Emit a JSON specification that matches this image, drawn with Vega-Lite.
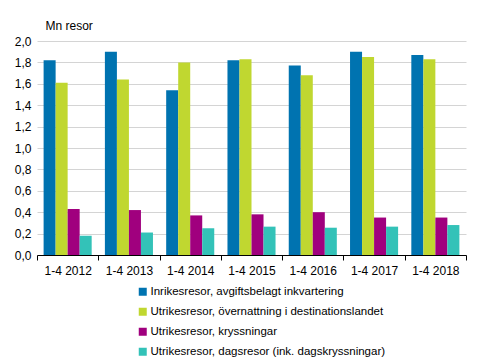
{
  "$schema": "https://vega.github.io/schema/vega-lite/v6.json",
  "width": 429,
  "height": 214,
  "autosize": {"type": "none"},
  "padding": {"left": 37, "top": 41, "right": 26, "bottom": 104},
  "background": "white",
  "config": {
    "font": "Liberation Sans",
    "view": {"stroke": null}
  },
  "data": {
    "values": [
      {"period": "1-4 2012", "serie": "Inrikesresor, avgiftsbelagt inkvartering", "value": 1.82},
      {"period": "1-4 2012", "serie": "Utrikesresor, övernattning i destinationslandet", "value": 1.61},
      {"period": "1-4 2012", "serie": "Utrikesresor, kryssningar", "value": 0.43},
      {"period": "1-4 2012", "serie": "Utrikesresor, dagsresor (ink. dagskryssningar)", "value": 0.18},
      {"period": "1-4 2013", "serie": "Inrikesresor, avgiftsbelagt inkvartering", "value": 1.90},
      {"period": "1-4 2013", "serie": "Utrikesresor, övernattning i destinationslandet", "value": 1.64},
      {"period": "1-4 2013", "serie": "Utrikesresor, kryssningar", "value": 0.42},
      {"period": "1-4 2013", "serie": "Utrikesresor, dagsresor (ink. dagskryssningar)", "value": 0.21},
      {"period": "1-4 2014", "serie": "Inrikesresor, avgiftsbelagt inkvartering", "value": 1.54},
      {"period": "1-4 2014", "serie": "Utrikesresor, övernattning i destinationslandet", "value": 1.80},
      {"period": "1-4 2014", "serie": "Utrikesresor, kryssningar", "value": 0.37},
      {"period": "1-4 2014", "serie": "Utrikesresor, dagsresor (ink. dagskryssningar)", "value": 0.25},
      {"period": "1-4 2015", "serie": "Inrikesresor, avgiftsbelagt inkvartering", "value": 1.82},
      {"period": "1-4 2015", "serie": "Utrikesresor, övernattning i destinationslandet", "value": 1.83},
      {"period": "1-4 2015", "serie": "Utrikesresor, kryssningar", "value": 0.38},
      {"period": "1-4 2015", "serie": "Utrikesresor, dagsresor (ink. dagskryssningar)", "value": 0.265},
      {"period": "1-4 2016", "serie": "Inrikesresor, avgiftsbelagt inkvartering", "value": 1.77},
      {"period": "1-4 2016", "serie": "Utrikesresor, övernattning i destinationslandet", "value": 1.68},
      {"period": "1-4 2016", "serie": "Utrikesresor, kryssningar", "value": 0.40},
      {"period": "1-4 2016", "serie": "Utrikesresor, dagsresor (ink. dagskryssningar)", "value": 0.255},
      {"period": "1-4 2017", "serie": "Inrikesresor, avgiftsbelagt inkvartering", "value": 1.90},
      {"period": "1-4 2017", "serie": "Utrikesresor, övernattning i destinationslandet", "value": 1.85},
      {"period": "1-4 2017", "serie": "Utrikesresor, kryssningar", "value": 0.35},
      {"period": "1-4 2017", "serie": "Utrikesresor, dagsresor (ink. dagskryssningar)", "value": 0.265},
      {"period": "1-4 2018", "serie": "Inrikesresor, avgiftsbelagt inkvartering", "value": 1.87},
      {"period": "1-4 2018", "serie": "Utrikesresor, övernattning i destinationslandet", "value": 1.83},
      {"period": "1-4 2018", "serie": "Utrikesresor, kryssningar", "value": 0.35},
      {"period": "1-4 2018", "serie": "Utrikesresor, dagsresor (ink. dagskryssningar)", "value": 0.28}
    ]
  },
  "mark": {"type": "bar"},
  "encoding": {
    "x": {
      "field": "period",
      "type": "nominal",
      "scale": {"paddingInner": 0, "paddingOuter": 0},
      "axis": {
        "title": null,
        "labelAngle": 0,
        "labelFontSize": 12,
        "labelColor": "#000000",
        "labelPadding": 5,
        "tickBand": "extent",
        "tickSize": 5,
        "tickColor": "#000000",
        "domainColor": "#000000",
        "grid": false
      }
    },
    "xOffset": {
      "field": "serie",
      "type": "nominal",
      "sort": null,
      "scale": {"paddingInner": 0, "paddingOuter": 0.55}
    },
    "y": {
      "field": "value",
      "type": "quantitative",
      "scale": {"domain": [0, 2], "nice": false},
      "axis": {
        "values": [0, 0.2, 0.4, 0.6, 0.8, 1.0, 1.2, 1.4, 1.6, 1.8, 2.0],
        "labelExpr": "replace(format(datum.value, '.1f'), '.', ',')",
        "labelFontSize": 12,
        "labelColor": "#000000",
        "labelPadding": 6,
        "domain": false,
        "ticks": false,
        "gridColor": "#d4d4d4",
        "title": "Mn resor",
        "titleAngle": 0,
        "titleAlign": "left",
        "titleBaseline": "alphabetic",
        "titleX": 8,
        "titleY": -12,
        "titleFontSize": 12,
        "titleFontWeight": "normal",
        "titleColor": "#000000"
      }
    },
    "color": {
      "field": "serie",
      "type": "nominal",
      "sort": null,
      "scale": {
        "domain": [
          "Inrikesresor, avgiftsbelagt inkvartering",
          "Utrikesresor, övernattning i destinationslandet",
          "Utrikesresor, kryssningar",
          "Utrikesresor, dagsresor (ink. dagskryssningar)"
        ],
        "range": ["#0073b0", "#c0d730", "#a0007e", "#33c2b8"]
      },
      "legend": {
        "title": null,
        "orient": "none",
        "legendX": 100,
        "legendY": 245,
        "direction": "vertical",
        "symbolType": "square",
        "symbolSize": 64,
        "symbolStrokeWidth": 0,
        "labelFontSize": 11.5,
        "labelColor": "#000000",
        "labelOffset": 2,
        "labelLimit": 0,
        "rowPadding": 7
      }
    }
  }
}
